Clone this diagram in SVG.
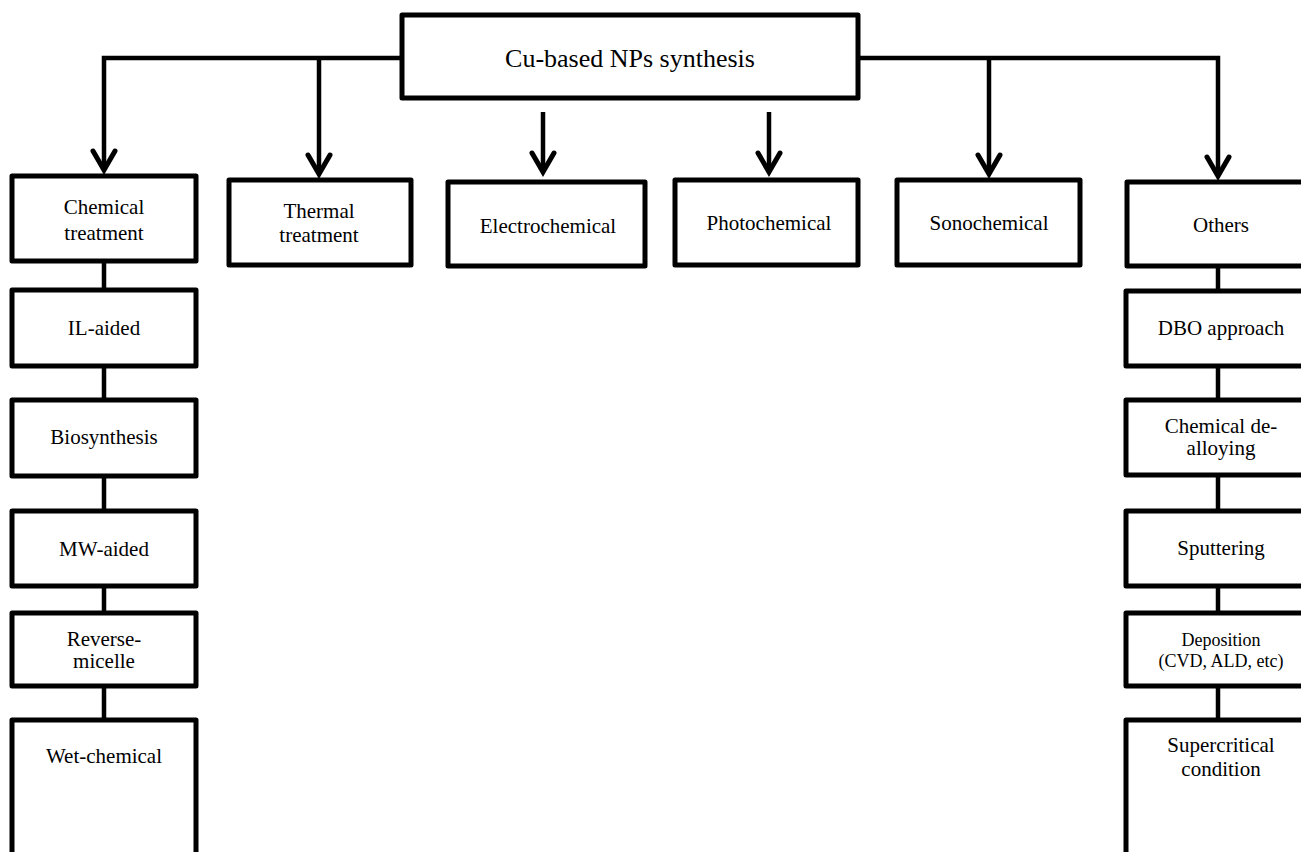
<svg xmlns="http://www.w3.org/2000/svg" width="1301" height="852" viewBox="0 0 1301 852">
<style>
.box{fill:#fff;stroke:#000;stroke-width:5;stroke-linejoin:round}
.ln{fill:none;stroke:#000;stroke-width:4.5}
.t{font-family:"Liberation Serif","Times New Roman",serif;font-size:21px;fill:#000;text-anchor:middle}
.s{font-size:18px}
.ttl{font-size:26px}
</style>
<defs>
<marker id="ah" markerUnits="userSpaceOnUse" viewBox="-24 -14 28 28" markerWidth="28" markerHeight="28" refX="0" refY="0" orient="auto" overflow="visible">
<path d="M-19,-11 L0,0 L-19,11" fill="none" stroke="#000" stroke-width="5" stroke-linejoin="miter" stroke-linecap="round"/>
</marker>
</defs>
<rect width="1301" height="852" fill="#fff"/>
<g id="connectors">
<path class="ln" d="M402,58 H104 V170" marker-end="url(#ah)"/>
<path class="ln" d="M319,58 V174" marker-end="url(#ah)"/>
<path class="ln" d="M543,112 V172" marker-end="url(#ah)"/>
<path class="ln" d="M769,112 V172" marker-end="url(#ah)"/>
<path class="ln" d="M858,58 H1218 V176" marker-end="url(#ah)"/>
<path class="ln" d="M989,58 V174" marker-end="url(#ah)"/>
<path class="ln" d="M104,261 V720"/>
<path class="ln" d="M1218,266 V720"/>
</g>
<g id="root"><rect class="box" x="402" y="15" width="456" height="83"/><text class="t ttl" x="630" y="67">Cu-based NPs synthesis</text></g>
<g id="chemical"><rect class="box" x="12" y="176" width="184" height="85"/><text class="t" x="104" y="214">Chemical</text><text class="t" x="104" y="240">treatment</text></g>
<g id="thermal"><rect class="box" x="229" y="180" width="182" height="85"/><text class="t" x="319" y="218">Thermal</text><text class="t" x="319" y="242">treatment</text></g>
<g id="electrochemical"><rect class="box" x="448" y="182" width="197" height="84"/><text class="t" x="548" y="233">Electrochemical</text></g>
<g id="photochemical"><rect class="box" x="675" y="180" width="183" height="85"/><text class="t" x="769" y="230">Photochemical</text></g>
<g id="sonochemical"><rect class="box" x="897" y="180" width="183" height="85"/><text class="t" x="989" y="230">Sonochemical</text></g>
<g id="others"><rect class="box" x="1127" y="182" width="200" height="84"/><text class="t" x="1221" y="232">Others</text></g>
<g id="il"><rect class="box" x="12" y="290" width="184" height="76"/><text class="t" x="104" y="335">IL-aided</text></g>
<g id="bio"><rect class="box" x="12" y="400" width="184" height="76"/><text class="t" x="104" y="444">Biosynthesis</text></g>
<g id="mw"><rect class="box" x="12" y="511" width="184" height="75"/><text class="t" x="104" y="556">MW-aided</text></g>
<g id="reverse"><rect class="box" x="12" y="613" width="184" height="73"/><text class="t" x="104" y="646">Reverse-</text><text class="t" x="104" y="668">micelle</text></g>
<g id="wet"><rect class="box" x="12" y="720" width="184" height="200"/><text class="t" x="104" y="763">Wet-chemical</text></g>
<g id="dbo"><rect class="box" x="1126" y="291" width="200" height="75"/><text class="t" x="1221" y="335">DBO approach</text></g>
<g id="dealloy"><rect class="box" x="1126" y="400" width="200" height="75"/><text class="t" x="1221" y="433">Chemical de-</text><text class="t" x="1221" y="455">alloying</text></g>
<g id="sputter"><rect class="box" x="1126" y="511" width="200" height="75"/><text class="t" x="1221" y="555">Sputtering</text></g>
<g id="deposition"><rect class="box" x="1126" y="613" width="200" height="73"/><text class="t s" x="1221" y="646">Deposition</text><text class="t s" x="1221" y="667">(CVD, ALD, etc)</text></g>
<g id="supercritical"><rect class="box" x="1126" y="720" width="200" height="200"/><text class="t" x="1221" y="752">Supercritical</text><text class="t" x="1221" y="776">condition</text></g>
</svg>
